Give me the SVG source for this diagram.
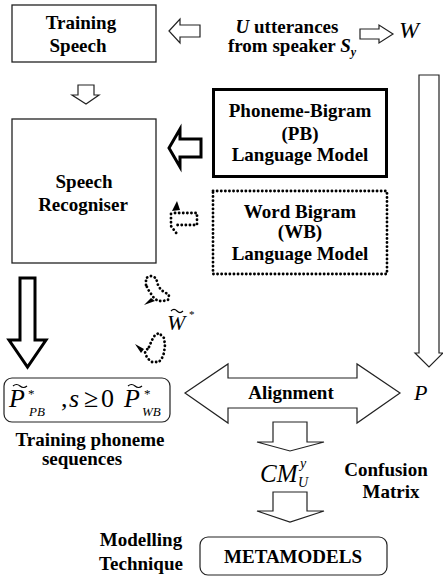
<svg xmlns="http://www.w3.org/2000/svg" width="443" height="583" viewBox="0 0 443 583" font-family="'Liberation Serif', 'Times New Roman', serif">
<style>
text{font-family:'Liberation Serif','Times New Roman',serif;fill:#000}
.b{font-weight:bold;font-size:19px}
.c{text-anchor:middle}
.i{font-style:italic}
.box{fill:#fff;stroke:#222;stroke-width:1.3}
.thin{fill:#fff;stroke:#222;stroke-width:1.2}
.thick{fill:#fff;stroke:#000;stroke-width:3}
.dot{fill:none;stroke:#000;stroke-width:2.8;stroke-linecap:round;stroke-dasharray:0.1 4}
.tl{fill:none;stroke:#000;stroke-width:1.2}
</style>
<rect width="443" height="583" fill="#fff"/>

<g id="connectors">
  <path class="thin" d="M169,31 L180,19 L180,25 L200,25 L200,37 L180,37 L180,43 Z"/>
  <path class="thin" d="M360,29 L379,29 L379,25 L393,34 L379,43 L379,39 L360,39 Z"/>
  <path class="thin" d="M78,85 L94,85 L94,95 L99,95 L86,104 L72,95 L78,95 Z"/>
  <path class="thick" d="M169,148 L180,129 L180,139 L201,139 L201,157 L180,157 L180,167 Z"/>
  <path class="dot" d="M175,213 L197,213 L197,225 L174,225 M171,214 L171,226 L177,234"/>
  <path d="M177,201 L172,211 L180,210 Z" fill="#000"/>
  <path class="thick" d="M20,278 L35,278 L35,340 L46,340 L27.5,367 L9,340 L20,340 Z"/>
  <path class="dot" d="M146,285 L146,278 L151,276 L156,278 L158,285 L161,290 L166,293 L169,295 L168,300 L163,301 L158,301 L154,298 L149,291 Z"/>
  <path d="M144,305 L155,301 L151,298 Z" fill="#000"/>
  <path class="dot" d="M149,347 L152,340 L155,335 L159,333 L164,338 L165,345 L164,353 L162,358 L159,362 L152,362 L147,358 L145,352 Z"/>
  <path d="M135,344 L144,349 L141,353 Z" fill="#000"/>
  <path class="thin" d="M419,75 L439,75 L439,353 L443,353 L429,367 L415,353 L419,353 Z"/>
  <path class="thin" d="M185,393 L228,364 L228,378 L357,378 L357,364 L400,393 L357,423 L357,408 L228,408 L228,423 Z"/>
  <path class="thin" d="M273,422 L307,422 L307,442 L324,442 L290,451 L257,442 L273,442 Z"/>
  <path class="thin" d="M273,492 L307,492 L307,511 L324,511 L290,522 L257,511 L273,511 Z"/>
</g>

<g id="training-speech">
  <rect class="box" x="12" y="5" width="144" height="57"/>
  <text class="b c" x="81" y="29" font-size="21">Training</text>
  <text class="b c" x="78" y="52" font-size="21">Speech</text>
</g>

<g id="utterances">
  <text class="b c" x="287" y="33" font-size="20"><tspan class="i">U</tspan> utterances</text>
  <text class="b c" x="292" y="52">from speaker <tspan class="i">S</tspan><tspan class="i" font-size="12" dy="4">y</tspan></text>
</g>

<g id="W">
  <text class="i" x="399" y="38" font-size="24">W</text>
</g>

<g id="speech-recogniser">
  <rect class="box" x="12" y="119" width="144" height="144"/>
  <text class="b c" x="84" y="188">Speech</text>
  <text class="b c" x="83" y="211">Recogniser</text>
</g>

<g id="pb-lm">
  <rect x="213.5" y="89.5" width="173" height="87" fill="#fff" stroke="#000" stroke-width="3"/>
  <text class="b c" x="300" y="117">Phoneme-Bigram</text>
  <text class="b c" x="300" y="140">(PB)</text>
  <text class="b c" x="300" y="161">Language Model</text>
</g>

<g id="wb-lm">
  <rect x="213" y="191" width="174" height="83" class="dot"/>
  <text class="b c" x="300" y="218">Word Bigram</text>
  <text class="b c" x="300" y="238">(WB)</text>
  <text class="b c" x="300" y="260">Language Model</text>
</g>

<g id="W-star">
  <text class="i" x="167" y="330" font-size="22">W</text>
  <path class="tl" d="M171,311 q3,-3 6,0 t6,0"/>
  <text x="189" y="318" font-size="11">*</text>
</g>

<g id="phoneme-sequences">
  <rect x="4" y="378" width="166" height="44" rx="8" fill="#fff" stroke="#222" stroke-width="1.2"/>
  <text class="i" x="9" y="407" font-size="26">P</text>
  <path class="tl" d="M13,386 q3.5,-3 7,0 t7,0"/>
  <text x="28" y="398" font-size="13">*</text>
  <text class="i" x="29" y="416" font-size="13">PB</text>
  <text x="61" y="407" font-size="26">,</text>
  <text class="i" x="69" y="407" font-size="26">s</text>
  <text x="84" y="407" font-size="26">≥</text>
  <text x="101" y="407" font-size="26">0</text>
  <text class="i" x="124" y="407" font-size="26">P</text>
  <path class="tl" d="M128,386 q3.5,-3 7,0 t7,0"/>
  <text x="144" y="398" font-size="13">*</text>
  <text class="i" x="142" y="416" font-size="13">WB</text>
  <text class="b c" x="90" y="446" font-size="19.5">Training phoneme</text>
  <text class="b c" x="82" y="465" font-size="19.5">sequences</text>
</g>

<g id="alignment">
  <text class="b c" x="291" y="399">Alignment</text>
</g>

<g id="P">
  <text class="i" x="414" y="400" font-size="22">P</text>
</g>

<g id="confusion-matrix">
  <text class="i" x="260" y="482" font-size="25">CM</text>
  <text class="i" x="300" y="468" font-size="14">y</text>
  <text class="i" x="298" y="487" font-size="14">U</text>
  <text class="b c" x="386" y="476" font-size="20.5">Confusion</text>
  <text class="b c" x="391" y="498" font-size="20">Matrix</text>
</g>

<g id="metamodels">
  <rect x="200" y="537" width="187" height="38" rx="8" fill="#fff" stroke="#222" stroke-width="1.2"/>
  <text class="b c" x="293" y="563" font-size="21.5">METAMODELS</text>
  <text class="b c" x="141" y="546">Modelling</text>
  <text class="b c" x="141" y="570">Technique</text>
</g>
</svg>
